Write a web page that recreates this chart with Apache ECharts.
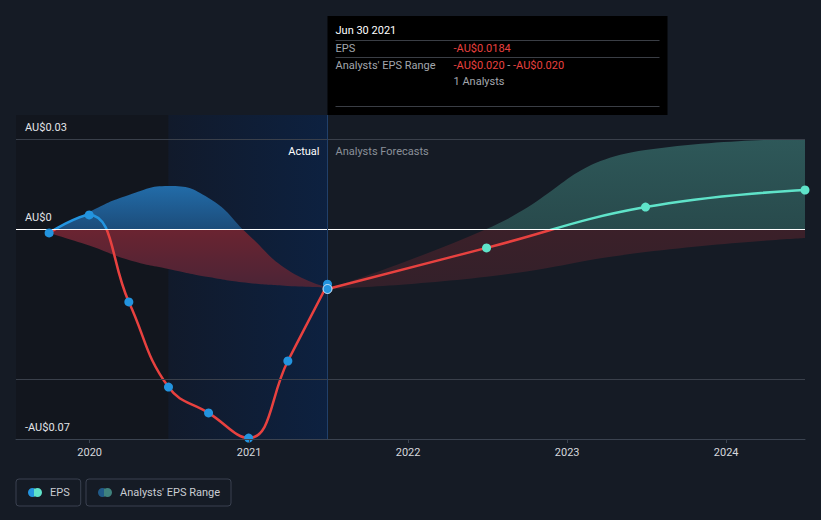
<!DOCTYPE html>
<html><head><meta charset="utf-8">
<script src="https://cdn.jsdelivr.net/npm/echarts@6/dist/echarts.min.js"></script>
<style>html,body{margin:0;padding:0;background:#151b25;}#c{width:821px;height:520px;}</style>
</head><body><div id="c"></div>
<script>
// ---- data ----
const actualDates = ['2019-09-30','2019-12-31','2020-03-31','2020-06-30','2020-09-30','2020-12-31','2021-03-31','2021-06-30'];
const actualEps   = [-0.0013, 0.0047, -0.0243, -0.0527, -0.0613, -0.0697, -0.044, -0.0184];
const pastRangeHigh = [-0.0013, 0.0057, 0.0113, 0.0143, 0.0103, -0.002, -0.0137, -0.0195];
const pastRangeLow  = [-0.0013, -0.0055, -0.0103, -0.0133, -0.016, -0.018, -0.019, -0.0195];
const forecastDates = ['2021-06-30','2022-06-30','2023-06-30','2024-06-30'];
const forecastEps   = [-0.020, -0.0063, 0.0073, 0.013];
const forecastHigh  = [-0.020, 0.0, 0.0263, 0.030];
const forecastLow   = [-0.020, -0.0159, -0.0077, -0.003];
const yTickValues = [0.03, 0, -0.07];
const yTickLabels = ['AU$0.03', 'AU$0', '-AU$0.07'];
const yGridValues = [0.03, -0.05];
const xMin = '2019-07-16', xMax = '2024-06-30';
const darkUntil = '2020-06-30';
const nowDate = '2021-06-30';
const tipTitle = 'Jun 30 2021';
const tipEps = '-AU$0.0184';
const tipRangeLow = '-AU$0.020', tipRangeHigh = '-AU$0.020';
const tipAnalysts = '1 Analysts';

const W = 821, H = 520;
const FONT = 'Roboto, "Noto Sans", sans-serif';
const chart = echarts.init(document.getElementById('c'), null, {renderer: 'svg', width: W, height: H});

function pairs(d, v) { return d.map((x, i) => [x, v[i]]); }
function diff(d, hi, lo) { return d.map((x, i) => [x, +(hi[i] - lo[i]).toFixed(6)]); }

const DAY = 24 * 3600 * 1000;

function buildOption(zeroY) {
  const grad = (stops) => new echarts.graphic.LinearGradient(0, 0, 0, H,
    stops.map(s => ({offset: Math.min(1, Math.max(0, s[0] / H)), color: s[1]})), true);
  const z = zeroY || 229;
  const pastBand = grad([[z - 50, '#2371b0'], [z, '#1c4c7a'], [z, '#6b2431'], [z + 60, '#4a2436']]);
  const futBand = grad([[z - 90, '#2e5859'], [z, '#284a4c'], [z, '#3b2029'], [z + 60, '#33202a']]);
  const pastLine = grad([[z, '#2394df'], [z, '#e8413f']]);
  const futLine = grad([[z, '#5fe3c9'], [z, '#e8413f']]);

  const markerData = actualDates.map((d, i) => ({value: [d, actualEps[i]], itemStyle: {color: '#2394df', opacity: 1}}))
    .concat(forecastDates.map((d, i) => ({
      value: [d, forecastEps[i]],
      itemStyle: i === 0 ? {color: '#2394df', borderColor: '#d6ecff', borderWidth: 1, opacity: 1} : {color: '#5fe3c9', opacity: 1}
    })));

  return {
    backgroundColor: '#151b25',
    animation: false,
    textStyle: {fontFamily: FONT},
    grid: {left: 16, right: 16, top: 115, bottom: 81, containLabel: false},
    xAxis: {
      type: 'time', min: xMin, max: xMax, z: 10,
      minInterval: 365 * DAY, maxInterval: 366 * DAY,
      axisLine: {onZero: false, lineStyle: {color: '#3b4350', width: 1}},
      axisTick: {show: true, inside: false, length: 4, lineStyle: {color: '#3b4350'}},
      axisLabel: {color: '#d5d8dd', fontSize: 11, fontFamily: FONT, margin: 8,
        formatter: '{yyyy}', showMinLabel: false, showMaxLabel: false},
      splitLine: {show: false}
    },
    yAxis: {
      type: 'value', min: -0.07, max: 0.038, interval: 0.01, z: 10,
      axisLine: {show: false}, axisTick: {show: false}, splitLine: {show: false},
      axisLabel: {
        inside: true, margin: 9, color: '#e2e4e8', fontSize: 11, fontFamily: FONT,
        verticalAlign: 'bottom', padding: [0, 0, 6, 0],
        formatter: (v) => {
          const k = yTickValues.findIndex(t => Math.abs(t - v) < 1e-9);
          return k >= 0 ? yTickLabels[k] : '';
        }
      }
    },
    legend: [
      {
        left: 16, top: 479, padding: [8, 11, 8, 12], itemWidth: 14, itemHeight: 9, itemGap: 0,
        borderColor: '#3a4150', borderWidth: 1, borderRadius: 3,
        textStyle: {color: '#c9cdd3', fontSize: 11, fontFamily: FONT, padding: [0, 0, 0, 3]},
        data: [{name: 'EPS', icon: 'path://M4.5,0A4.5,4.5,0,1,1,4.5,9A4.5,4.5,0,1,1,4.5,0ZM9.5,0A4.5,4.5,0,1,1,9.5,9A4.5,4.5,0,1,1,9.5,0Z',
          itemStyle: {color: new echarts.graphic.LinearGradient(0, 0, 1, 0, [
            {offset: 0, color: '#2394df'}, {offset: 0.4, color: '#2394df'}, {offset: 0.4, color: '#5fe3c9'}, {offset: 1, color: '#5fe3c9'}])}}]
      },
      {
        left: 86, top: 479, padding: [8, 11, 8, 12], itemWidth: 14, itemHeight: 9, itemGap: 0,
        borderColor: '#3a4150', borderWidth: 1, borderRadius: 3,
        textStyle: {color: '#c9cdd3', fontSize: 11, fontFamily: FONT, padding: [0, 0, 0, 3]},
        data: [{name: "Analysts' EPS Range", icon: 'path://M4.5,0A4.5,4.5,0,1,1,4.5,9A4.5,4.5,0,1,1,4.5,0ZM9.5,0A4.5,4.5,0,1,1,9.5,9A4.5,4.5,0,1,1,9.5,0Z',
          itemStyle: {color: new echarts.graphic.LinearGradient(0, 0, 1, 0, [
            {offset: 0, color: '#205a88'}, {offset: 0.4, color: '#205a88'}, {offset: 0.4, color: '#3f827d'}, {offset: 1, color: '#3f827d'}])}}]
      }
    ],
    series: [
      {
        name: "Analysts' EPS Range", type: 'line', z: 1, stack: 'past', stackStrategy: 'all',
        data: pairs(actualDates, pastRangeLow), smooth: 0.5, symbol: 'none', lineStyle: {width: 0, opacity: 0},
        silent: true,
        markArea: {
          silent: true,
          data: [
            [{xAxis: xMin, itemStyle: {color: '#12161e'}}, {xAxis: darkUntil}],
            [{xAxis: darkUntil, itemStyle: {color: new echarts.graphic.LinearGradient(0, 0, 1, 0, [
              {offset: 0, color: '#111a2b'}, {offset: 1, color: '#0d2140'}])}}, {xAxis: nowDate}]
          ]
        }
      },
      {
        name: "Analysts' EPS Range", type: 'line', z: 2, stack: 'past', stackStrategy: 'all',
        data: diff(actualDates, pastRangeHigh, pastRangeLow), smooth: 0.5, symbol: 'none',
        lineStyle: {width: 0, opacity: 0}, areaStyle: {color: pastBand, opacity: 1}, silent: true
      },
      {
        name: "Analysts' EPS Range", type: 'line', z: 2, stack: 'fut', stackStrategy: 'all',
        data: pairs(forecastDates, forecastLow), smooth: 0.5, symbol: 'none', lineStyle: {width: 0, opacity: 0}, silent: true
      },
      {
        name: "Analysts' EPS Range", type: 'line', z: 2, stack: 'fut', stackStrategy: 'all',
        data: diff(forecastDates, forecastHigh, forecastLow), smooth: 0.5, symbol: 'none',
        lineStyle: {width: 0, opacity: 0}, areaStyle: {color: futBand, opacity: 1}, silent: true
      },
      {
        type: 'line', z: 3, data: [], silent: true,
        markLine: {
          silent: true, symbol: 'none', label: {show: false},
          data: yGridValues.map(v => ({yAxis: v, lineStyle: {color: '#3a404b', width: 1, type: 'solid'}}))
            .concat([{yAxis: 0, lineStyle: {color: '#ffffff', width: 1, type: 'solid'}},
                     {xAxis: nowDate, lineStyle: {color: '#21406a', width: 1, type: 'solid'}}])
        }
      },
      {
        name: 'EPS', type: 'line', z: 4, data: pairs(actualDates, actualEps), smooth: 0.45, symbol: 'none',
        lineStyle: {width: 2.5, color: pastLine}
      },
      {
        name: 'EPS', type: 'line', z: 4, data: pairs(forecastDates, forecastEps), smooth: 0.45, symbol: 'none',
        lineStyle: {width: 2.5, color: futLine}
      },
      {
        name: 'EPS', type: 'scatter', z: 5, symbolSize: 9, data: markerData, clip: true,
        itemStyle: {opacity: 1}
      }
    ]
  };
}

chart.setOption(buildOption(null));
const zeroY = chart.convertToPixel({yAxisIndex: 0}, 0);
const nowX = chart.convertToPixel({xAxisIndex: 0}, nowDate);
const opt = buildOption(zeroY);
const tipW = 340, tipTop = 16, tipH = 99;
opt.graphic = [
  {type: 'text', z: 100, x: nowX - 8, y: 151, style: {text: 'Actual', fill: '#ffffff', font: '11px ' + FONT, textVerticalAlign: 'middle', textAlign: 'right'}},
  {type: 'text', z: 100, x: nowX + 8, y: 151, style: {text: 'Analysts Forecasts', fill: '#8a9099', font: '11px ' + FONT, textVerticalAlign: 'middle', textAlign: 'left'}},
  {type: 'group', z: 100, x: nowX, y: tipTop, children: [
    {type: 'rect', z: 100, shape: {x: 0, y: 0, width: tipW, height: tipH}, style: {fill: '#000000'}},
    {type: 'text', z: 101, x: 8, y: 14, style: {text: tipTitle, fill: '#ffffff', font: '11px ' + FONT, textVerticalAlign: 'middle'}},
    {type: 'line', z: 101, shape: {x1: 8, y1: 24.5, x2: 332, y2: 24.5}, style: {stroke: '#3a3e45', lineWidth: 1}},
    {type: 'text', z: 101, x: 8, y: 32, style: {text: 'EPS', fill: '#a3a7ad', font: '11px ' + FONT, textVerticalAlign: 'middle'}},
    {type: 'text', z: 101, x: 126, y: 32, style: {text: tipEps, fill: '#e8413f', font: '11px ' + FONT, textVerticalAlign: 'middle'}},
    {type: 'line', z: 101, shape: {x1: 8, y1: 41.5, x2: 332, y2: 41.5}, style: {stroke: '#3a3e45', lineWidth: 1}},
    {type: 'text', z: 101, x: 8, y: 49, style: {text: "Analysts' EPS Range", fill: '#a3a7ad', font: '11px ' + FONT, textVerticalAlign: 'middle'}},
    {type: 'text', z: 101, x: 126, y: 49, style: {
      text: '{r|' + tipRangeLow + '}{g| - }{r|' + tipRangeHigh + '}', textVerticalAlign: 'middle',
      rich: {r: {fill: '#e8413f', font: '11px ' + FONT}, g: {fill: '#a3a7ad', font: '11px ' + FONT}}}},
    {type: 'text', z: 101, x: 126, y: 65, style: {text: tipAnalysts, fill: '#a3a7ad', font: '11px ' + FONT, textVerticalAlign: 'middle'}},
    {type: 'line', z: 101, shape: {x1: 8, y1: 90.5, x2: 332, y2: 90.5}, style: {stroke: '#3a3e45', lineWidth: 1}}
  ]}
];
chart.setOption(opt, true);
</script>
</body></html>
